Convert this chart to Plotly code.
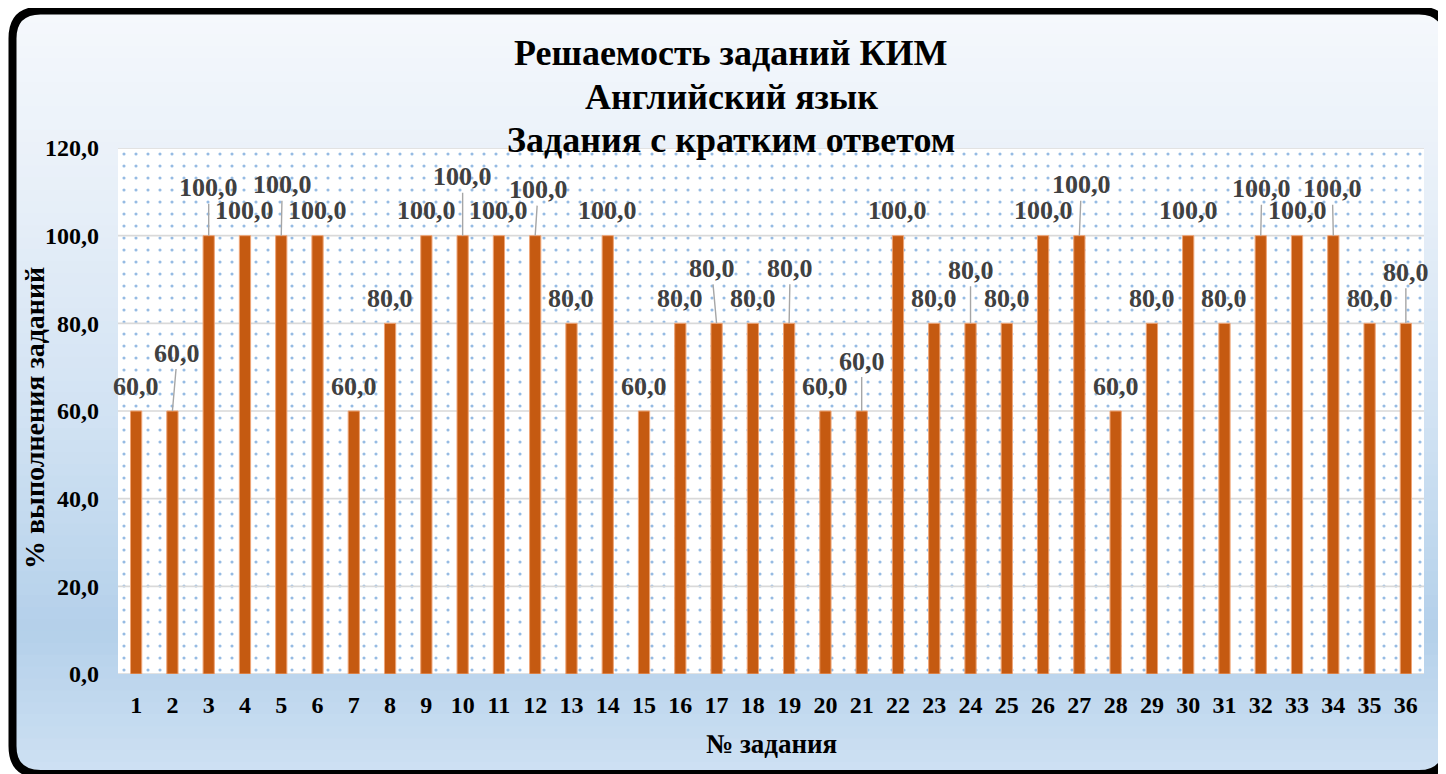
import plotly.graph_objects as go

# ---------------- data ----------------
tasks = list(range(1, 37))
values = [60, 60, 100, 100, 100, 100, 60, 80, 100, 100, 100, 100,
          80, 100, 60, 80, 80, 80, 80, 60, 60, 100, 80, 80,
          80, 100, 100, 60, 80, 100, 80, 100, 100, 100, 80, 80]
value_labels = [f"{v:.1f}".replace(".", ",") for v in values]
task_labels = [str(t) for t in tasks]
y_ticks = [0, 20, 40, 60, 80, 100, 120]
y_tick_labels = ["0,0", "20,0", "40,0", "60,0", "80,0", "100,0", "120,0"]
title_lines = ["Решаемость заданий КИМ", "Английский язык", "Задания с кратким ответом"]
y_title = "% выполнения заданий"
x_title = "№ задания"

# label placement (pixels) for labels pulled up with leader lines: task -> (dx, dy)
moved_labels = {2: (5, -58), 3: (0, -48), 5: (1, -51), 10: (0, -59), 12: (3, -46),
                17: (-5, -55), 19: (1, -55), 21: (0, -50), 24: (0, -53), 27: (2, -51),
                32: (1, -47), 34: (-1, -47), 36: (0, -51)}

# ---------------- geometry / style ----------------
OFF = 8                      # page body margin of the html page
W, H = 1446 - OFF, 774 - OFF
L, R, T, B = 110, 22, 140, 100
PW, PH = W - L - R, H - T - B
FONT = "Liberation Serif"
BAR = "#C55A11"


def px_x(px):   # page pixel -> paper x
    return (px - OFF - L) / PW


def px_y(py):   # page pixel -> paper y
    return (T + PH - (py - OFF)) / PH


grad_stops = [(10, (245, 248, 252)), (200, (231, 239, 248)), (420, (209, 226, 243)),
              (630, (180, 208, 234)), (774, (206, 225, 243))]


def grad_color(py):
    for (y0, c0), (y1, c1) in zip(grad_stops[:-1], grad_stops[1:]):
        if py <= y1:
            t = (py - y0) / (y1 - y0)
            c = [round(a + (b - a) * t) for a, b in zip(c0, c1)]
            return f"rgb({c[0]},{c[1]},{c[2]})"
    c = grad_stops[-1][1]
    return f"rgb({c[0]},{c[1]},{c[2]})"


fig = go.Figure()

# dotted plot-area background (main subplot)
fig.add_trace(go.Bar(
    x=[(tasks[0] + tasks[-1]) / 2], y=[y_ticks[-1]], width=[len(tasks)],
    marker=dict(color="white", line=dict(width=0),
                pattern=dict(shape=".", fgcolor="#2E78C8", bgcolor="white",
                             size=12, solidity=0.055)),
    hoverinfo="skip", showlegend=False, xaxis="x", yaxis="y"))

# gridlines (above dots, below bars)
gx, gy = [], []
for v in y_ticks:
    gx += [tasks[0] - 0.5, tasks[-1] + 0.5, None]
    gy += [v, v, None]
fig.add_trace(go.Scatter(x=gx, y=gy, mode="lines",
                         line=dict(color="#D9D9D9", width=1.6),
                         hoverinfo="skip", showlegend=False, xaxis="x", yaxis="y"))

# data bars (overlay subplot so they are drawn above the gridlines)
fig.add_trace(go.Bar(
    x=tasks, y=values, width=0.31,
    marker=dict(color=BAR, line=dict(color="#EFA577", width=1)),
    showlegend=False, xaxis="x2", yaxis="y2"))

# ---------------- shapes: background gradient, rounded border ----------------
shapes = []
xl, xr, yt, yb = 12.5, 1447, 10.5, 774
n = 64
step = (yb - yt) / n
for i in range(n):
    y0 = yt + i * step
    y1 = y0 + step + 0.8
    shapes.append(dict(type="rect", xref="paper", yref="paper", layer="below",
                       x0=px_x(xl), x1=px_x(xr), y0=px_y(y0), y1=px_y(min(y1, yb)),
                       fillcolor=grad_color(y0 + step / 2), line=dict(width=0)))
rad = 28


def P(px, py):
    return f"{px_x(px):.6f},{px_y(py):.6f}"


corner_masks = [
    f"M{P(xl-6, yt-6)} L{P(xl+rad, yt-6)} L{P(xl+rad, yt)} Q{P(xl, yt)} {P(xl, yt+rad)} L{P(xl-6, yt+rad)} Z",
    f"M{P(xr+6, yt-6)} L{P(xr-rad, yt-6)} L{P(xr-rad, yt)} Q{P(xr, yt)} {P(xr, yt+rad)} L{P(xr+6, yt+rad)} Z",
    f"M{P(xl-6, yb+6)} L{P(xl+rad, yb+6)} L{P(xl+rad, yb)} Q{P(xl, yb)} {P(xl, yb-rad)} L{P(xl-6, yb-rad)} Z",
    f"M{P(xr+6, yb+6)} L{P(xr-rad, yb+6)} L{P(xr-rad, yb)} Q{P(xr, yb)} {P(xr, yb-rad)} L{P(xr+6, yb-rad)} Z",
]
for pth in corner_masks:
    shapes.append(dict(type="path", xref="paper", yref="paper", layer="below",
                       path=pth, fillcolor="white", line=dict(width=0)))
border = (f"M{P(xl+rad, yt)} L{P(xr-rad, yt)} Q{P(xr, yt)} {P(xr, yt+rad)} "
          f"L{P(xr, yb-rad)} Q{P(xr, yb)} {P(xr-rad, yb)} L{P(xl+rad, yb)} "
          f"Q{P(xl, yb)} {P(xl, yb-rad)} L{P(xl, yt+rad)} Q{P(xl, yt)} {P(xl+rad, yt)} Z")
shapes.append(dict(type="path", xref="paper", yref="paper", layer="below",
                   path=border, line=dict(color="black", width=8)))

# ---------------- annotations ----------------
lab_font = dict(family=FONT, size=26, color="#404040", weight="bold")
ann = []
for t, v, lab in zip(tasks, values, value_labels):
    if t in moved_labels:
        dx, dy = moved_labels[t]
        ann.append(dict(x=t, y=v, xref="x2", yref="y2", text=lab, showarrow=True,
                        ax=dx, ay=dy, arrowhead=0, arrowwidth=1.4, arrowcolor="#A6A6A6",
                        standoff=0, borderpad=1, font=lab_font))
    else:
        ann.append(dict(x=t, y=v, xref="x2", yref="y2", text=lab, showarrow=False,
                        xanchor="center", yanchor="middle", yshift=25, font=lab_font))

title_centers = [53, 97, 140]
for line, cy in zip(title_lines, title_centers):
    ann.append(dict(x=px_x(731), y=px_y(cy), xref="paper", yref="paper",
                    text=line, showarrow=False, xanchor="center", yanchor="middle",
                    font=dict(family=FONT, size=36, color="black", weight="bold")))
ann.append(dict(x=px_x(34), y=px_y(418), xref="paper", yref="paper", text=y_title,
                textangle=-90, showarrow=False, xanchor="center", yanchor="middle",
                font=dict(family=FONT, size=28, color="black", weight="bold")))
ann.append(dict(x=px_x(771), y=px_y(744), xref="paper", yref="paper", text=x_title,
                showarrow=False, xanchor="center", yanchor="middle",
                font=dict(family=FONT, size=27, color="black", weight="bold")))

tick_font = dict(family=FONT, size=24, color="black", weight="bold")
xr_range = [tasks[0] - 0.5, tasks[-1] + 0.5]
fig.update_layout(
    width=W, height=H,
    margin=dict(l=L, r=R, t=T, b=B, autoexpand=False),
    paper_bgcolor="white", plot_bgcolor="white",
    barmode="overlay",
    showlegend=False,
    xaxis=dict(range=xr_range, tickvals=tasks, ticktext=task_labels,
               showgrid=False, zeroline=False, showline=False, ticks="",
               tickfont=tick_font, ticklabelstandoff=14, fixedrange=True),
    yaxis=dict(range=[y_ticks[0], y_ticks[-1]], tickvals=y_ticks, ticktext=y_tick_labels,
               showgrid=False, zeroline=False, showline=False, ticks="",
               tickfont=tick_font, ticklabelstandoff=18, fixedrange=True),
    xaxis2=dict(range=xr_range, overlaying="x", visible=False, fixedrange=True),
    yaxis2=dict(range=[y_ticks[0], y_ticks[-1]], overlaying="y", visible=False, fixedrange=True),
    shapes=shapes,
    annotations=ann,
)

fig.write_html("out.html")
